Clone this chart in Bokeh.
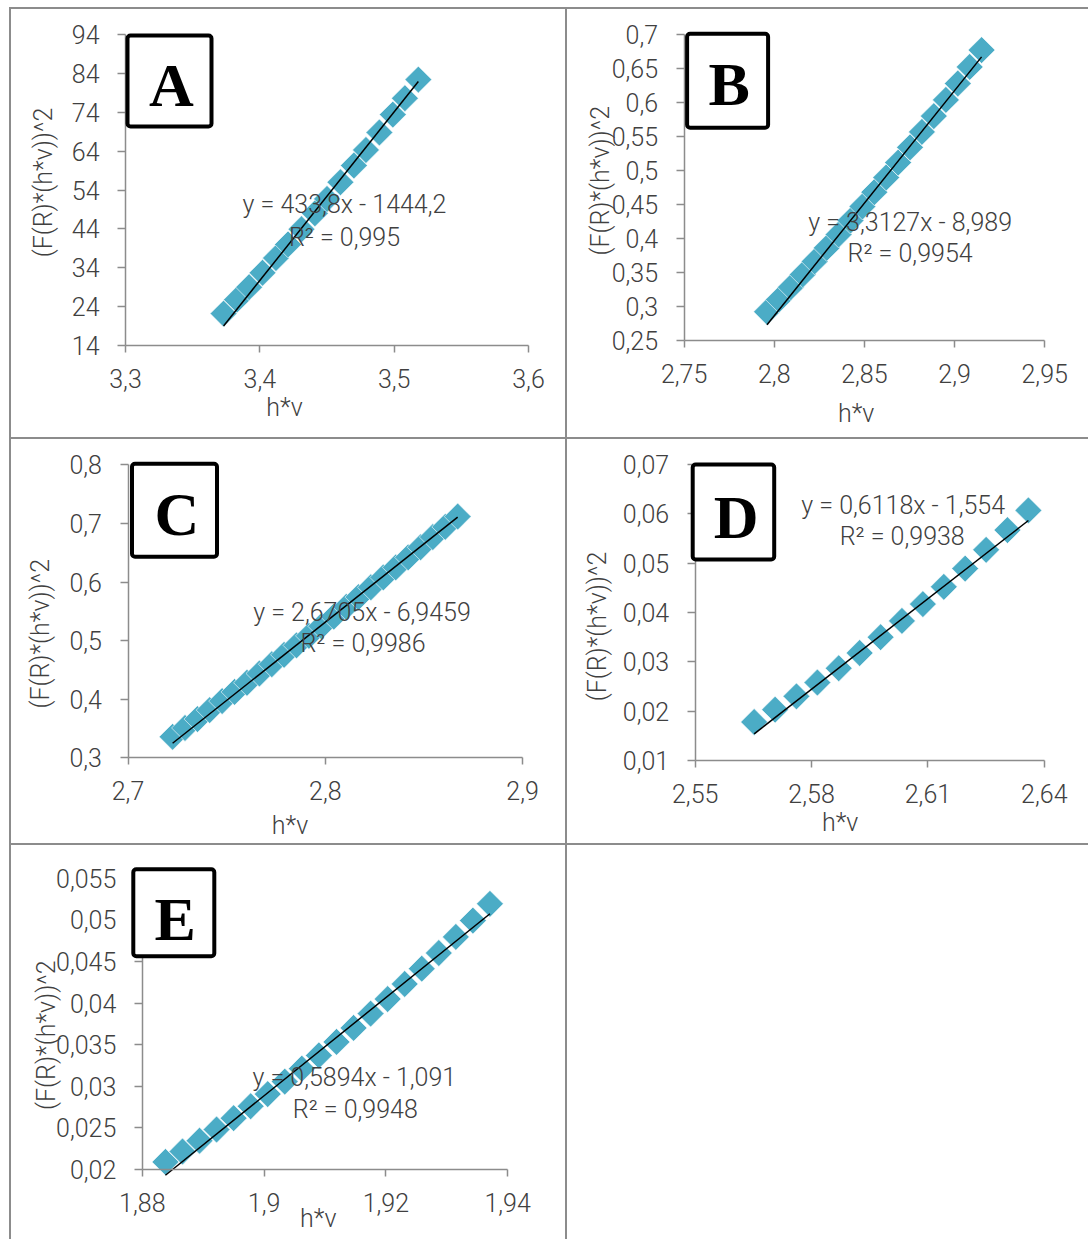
import math

from bokeh.embed import file_html
from bokeh.layouts import column, row
from bokeh.models import (BoxAnnotation, CustomJSTickFormatter, FixedTicker,
                          Label, Range1d, Spacer)
from bokeh.plotting import figure
from bokeh.resources import INLINE

# ---------------------------------------------------------------- data
# Tauc plots: photon energy h*v (eV) against (F(R)*(h*v))^2

A_hv = [3.373, 3.383, 3.392, 3.402, 3.412, 3.421, 3.431, 3.441, 3.450, 3.460,
        3.470, 3.479, 3.489, 3.499, 3.508, 3.518]
A_val = [22.2, 25.8, 29.0, 32.7, 36.5, 40.0, 43.9, 48.0, 51.7, 56.0,
         60.3, 64.3, 68.8, 73.4, 77.6, 82.4]

B_hv = [2.796, 2.8026, 2.8092, 2.8158, 2.8224, 2.8291, 2.8357, 2.8423, 2.8489,
        2.8555, 2.8621, 2.8687, 2.8753, 2.8819, 2.8885, 2.8952, 2.9018, 2.9084,
        2.915]
B_val = [0.2923, 0.3102, 0.3285, 0.3472, 0.3664, 0.3863, 0.4061, 0.4265, 0.4473,
         0.4684, 0.4900, 0.5119, 0.5343, 0.5571, 0.5803, 0.6042, 0.6283, 0.6527,
         0.6775]

C_hv = [2.7226, 2.7289, 2.7352, 2.7414, 2.7477, 2.7540, 2.7603, 2.7666, 2.7729,
        2.7791, 2.7854, 2.7917, 2.7980, 2.8043, 2.8106, 2.8168, 2.8231, 2.8294,
        2.8357, 2.8420, 2.8483, 2.8545, 2.8608, 2.8671]
C_val = [0.3358, 0.3509, 0.3661, 0.3814, 0.3968, 0.4124, 0.4281, 0.4439, 0.4597,
         0.4757, 0.4919, 0.5081, 0.5244, 0.5409, 0.5575, 0.5742, 0.5910, 0.6078,
         0.6249, 0.6420, 0.6593, 0.6767, 0.6941, 0.7117]

D_hv = [2.5652, 2.5706, 2.5761, 2.5815, 2.5870, 2.5924, 2.5978, 2.6033, 2.6087,
        2.6141, 2.6196, 2.6250, 2.6305, 2.6359]
D_val = [0.0178, 0.0203, 0.0230, 0.0258, 0.0287, 0.0318, 0.0350, 0.0383, 0.0417,
         0.0452, 0.0489, 0.0527, 0.0567, 0.0607]

E_hv = [1.8838, 1.8866, 1.8894, 1.8922, 1.8950, 1.8978, 1.9006, 1.9034, 1.9062,
        1.9090, 1.9119, 1.9147, 1.9175, 1.9203, 1.9231, 1.9259, 1.9287, 1.9315,
        1.9343, 1.9371]
E_val = [0.02091, 0.02216, 0.02346, 0.02480, 0.02617, 0.02760, 0.02906, 0.03056,
         0.03212, 0.03371, 0.03533, 0.03701, 0.03873, 0.04048, 0.04229, 0.04413,
         0.04601, 0.04795, 0.04991, 0.05192]

# linear trendlines (slope, intercept) and their printed labels
A_fit = (433.8, -1444.2)
B_fit = (3.3127, -8.989)
C_fit = (2.6705, -6.9459)
D_fit = (0.6118, -1.554)
E_fit = (0.5894, -1.091)

A_eq, A_r2 = "y = 433,8x - 1444,2", "R² = 0,995"
B_eq, B_r2 = "y = 3,3127x - 8,989", "R² = 0,9954"
C_eq, C_r2 = "y = 2,6705x - 6,9459", "R² = 0,9986"
D_eq, D_r2 = "y = 0,6118x - 1,554", "R² = 0,9938"
E_eq, E_r2 = "y = 0,5894x - 1,091", "R² = 0,9948"

# axis ticks
A_xticks = [3.3, 3.4, 3.5, 3.6]
A_yticks = [14, 24, 34, 44, 54, 64, 74, 84, 94]
B_xticks = [2.75, 2.8, 2.85, 2.9, 2.95]
B_yticks = [0.25, 0.3, 0.35, 0.4, 0.45, 0.5, 0.55, 0.6, 0.65, 0.7]
C_xticks = [2.7, 2.8, 2.9]
C_yticks = [0.3, 0.4, 0.5, 0.6, 0.7, 0.8]
D_xticks = [2.55, 2.58, 2.61, 2.64]
D_yticks = [0.01, 0.02, 0.03, 0.04, 0.05, 0.06, 0.07]
E_xticks = [1.88, 1.9, 1.92, 1.94]
E_yticks = [0.02, 0.025, 0.03, 0.035, 0.04, 0.045, 0.05, 0.055]

X_TITLE = "h*v"
Y_TITLE = "(F(R)*(h*v))^2"

# ---------------------------------------------------------------- style
MARKER = "#4BACC6"
RULE = "#8c8c8c"
AXIS = "#8c8c8c"
INK = "#404040"
FONT = "Roboto Light"
TICK_SIZE = "25px"
TEXT_SIZE = "25px"
LETTER_FONT = "Liberation Serif"
LETTER_SIZE = "62px"


def panel(letter, hv, val, fit, eq, r2, xticks, yticks, size, axis_box, marks):
    """One cell: the frame fills the whole cell and the axes sit at fixed
    positions inside it, so titles and the letter box are never clipped."""
    width, height = size
    bl, br, bt, bb = axis_box          # axis corner pixels inside the cell
    x0, x1 = xticks[0], xticks[-1]
    y0, y1 = yticks[0], yticks[-1]
    kx = (x1 - x0) / (br - bl)
    ky = (y1 - y0) / (bb - bt)

    def at(dx, dy):
        # pixel offset from the axes' top-left corner -> data coordinates
        return x0 + dx * kx, y1 - dy * ky

    p = figure(width=width, height=height, min_border=0,
               x_range=Range1d(x0 - bl * kx, x1 + (width - br) * kx),
               y_range=Range1d(y0 - (height - bb) * ky, y1 + bt * ky),
               tools="", toolbar_location=None, output_backend="svg")
    p.outline_line_color = None
    p.grid.visible = False
    p.background_fill_color = "white"
    p.border_fill_color = "white"

    fmt = CustomJSTickFormatter(code="return tick.toString().replace('.', ',');")
    for ax, ticks, out, standoff, loc in ((p.xaxis[0], xticks, 7, 16, y0),
                                          (p.yaxis[0], yticks, 8, 18, x0)):
        ax.fixed_location = loc
        ax.bounds = (ticks[0], ticks[-1])
        ax.ticker = FixedTicker(ticks=ticks)
        ax.formatter = fmt
        ax.axis_line_color = AXIS
        ax.axis_line_width = 1.5
        ax.major_tick_line_color = AXIS
        ax.major_tick_line_width = 1.5
        ax.major_tick_in = 0
        ax.major_tick_out = out
        ax.minor_tick_line_color = None
        ax.major_label_standoff = standoff
        ax.major_label_text_font = FONT
        ax.major_label_text_font_size = TICK_SIZE
        ax.major_label_text_color = INK

    # measured points and the fitted straight line over their span
    p.scatter(hv, val, marker="square", angle=math.pi / 4, size=19,
              fill_color=MARKER, line_color="white", line_alpha=0.6, line_width=1)
    slope, icept = fit
    xs = [min(hv), max(hv)]
    p.line(xs, [slope * x + icept for x in xs], line_color="black", line_width=1.5)

    def text(key, s, angle=0.0):
        tx, ty = at(*marks[key])
        p.add_layout(Label(x=tx, y=ty, text=s, text_font=FONT,
                           text_font_size=TEXT_SIZE, text_color=INK, angle=angle,
                           text_align="center", text_baseline="middle"))

    text("eq", eq)
    text("r2", r2)
    text("xtitle", X_TITLE)
    text("ytitle", Y_TITLE, angle=math.pi / 2)

    # boxed panel letter
    l, r, t, b = marks["box"]
    lx, ty_ = at(l, t)
    rx_, by = at(r, b)
    p.add_layout(BoxAnnotation(left=lx, right=rx_, top=ty_, bottom=by,
                               fill_color="white", fill_alpha=1.0,
                               line_color="black", line_width=4, line_alpha=1.0,
                               border_radius=3))
    cx, cy = at(*marks["letter"])
    p.add_layout(Label(x=cx, y=cy, text=letter, text_font=LETTER_FONT,
                       text_font_style="bold", text_font_size=LETTER_SIZE,
                       text_color="black", text_align="center",
                       text_baseline="middle"))
    return p


pA = panel("A", A_hv, A_val, A_fit, A_eq, A_r2, A_xticks, A_yticks,
           (554, 428), (114, 517, 25, 336),
           dict(eq=(219, 170), r2=(219, 203), xtitle=(159, 373), ytitle=(-82, 148),
                box=(2, 86, 1, 92), letter=(46, 50.5)))
pB = panel("B", B_hv, B_val, B_fit, B_eq, B_r2, B_xticks, B_yticks,
           (521, 428), (116.6, 477.2, 25.3, 331),
           dict(eq=(226, 188), r2=(226, 219), xtitle=(172, 379), ytitle=(-84, 146),
                box=(3, 84, -1, 93), letter=(45, 49.5)))
pC = panel("C", C_hv, C_val, C_fit, C_eq, C_r2, C_xticks, C_yticks,
           (554, 404), (116.5, 511.1, 25.3, 318.3),
           dict(eq=(234, 148), r2=(235, 179), xtitle=(162, 361), ytitle=(-88, 169),
                box=(4, 89, -1, 92), letter=(49, 49)))
pD = panel("D", D_hv, D_val, D_fit, D_eq, D_r2, D_xticks, D_yticks,
           (521, 404), (127.7, 476.8, 25, 321),
           dict(eq=(208, 41), r2=(207, 72), xtitle=(145, 358), ytitle=(-98, 162),
                box=(-2.5, 79, 0, 95), letter=(41, 52)))
pE = panel("E", E_hv, E_val, E_fit, E_eq, E_r2, E_xticks, E_yticks,
           (554, 394), (130.8, 496.1, 32.7, 324),
           dict(eq=(212, 199), r2=(213, 231), xtitle=(176, 340), ytitle=(-96, 157),
                box=(-9, 72, -9, 78), letter=(33, 41)))


def rule(w, h):
    return Spacer(width=w, height=h, styles={"background-color": RULE})


def gap(w, h):
    return Spacer(width=w, height=h)


page = column(
    gap(1088, 7),
    row(gap(9, 2), rule(1079, 2)),
    row(gap(9, 428), rule(2, 428), pA, rule(2, 428), pB),
    row(gap(9, 2), rule(1079, 2)),
    row(gap(9, 404), rule(2, 404), pC, rule(2, 404), pD),
    row(gap(9, 2), rule(1079, 2)),
    row(gap(9, 394), rule(2, 394), pE, rule(2, 394)),
)

open("out.html", "w").write(file_html(page, INLINE))
